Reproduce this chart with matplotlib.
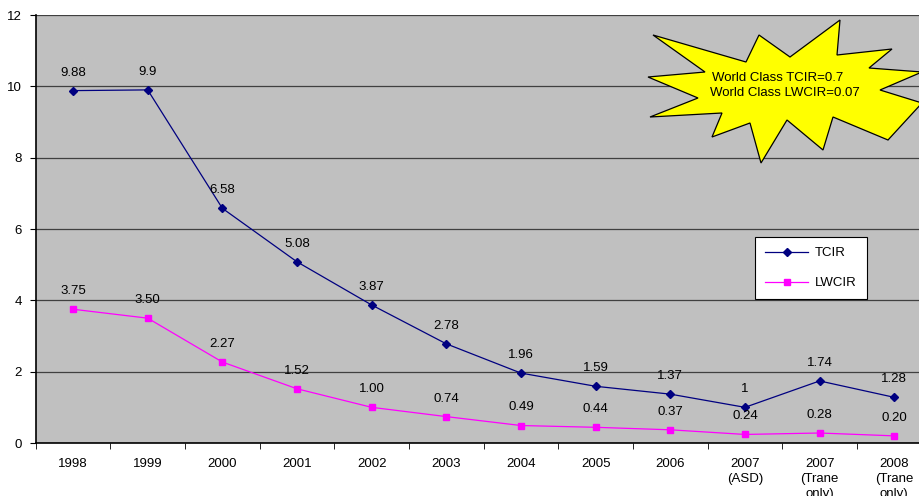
import numpy as np
import matplotlib
matplotlib.use('Agg')
import matplotlib.pyplot as plt
from matplotlib.patches import Polygon

plt.rcParams['font.family'] = ['Liberation Sans', 'DejaVu Sans']

years = ['1998', '1999', '2000', '2001', '2002', '2003', '2004', '2005', '2006',
         '2007\n(ASD)', '2007\n(Trane\nonly)', '2008\n(Trane\nonly)']
tcir = [9.88, 9.9, 6.58, 5.08, 3.87, 2.78, 1.96, 1.59, 1.37, 1, 1.74, 1.28]
tcir_lbl = ['9.88', '9.9', '6.58', '5.08', '3.87', '2.78', '1.96', '1.59', '1.37', '1', '1.74', '1.28']
lwcir = [3.75, 3.50, 2.27, 1.52, 1.00, 0.74, 0.49, 0.44, 0.37, 0.24, 0.28, 0.20]
lwcir_lbl = ['%.2f' % v for v in lwcir]

FS = 9.5
W, H = 919, 496
fig = plt.figure(figsize=(W / 100, H / 100), dpi=100)
ax = fig.add_axes([35.7 / W, (H - 443) / H, (931.6 - 35.7) / W, (443 - 15) / H])
ax.set_facecolor('#c0c0c0')

x = np.arange(len(years))
ax.plot(x, tcir, color='#000080', marker='D', markersize=4, lw=0.9, label='TCIR', zorder=3)
ax.plot(x, lwcir, color='#ff00ff', marker='s', markersize=5, lw=0.9, label='LWCIR', zorder=3)

for xi, v, s in zip(x, tcir, tcir_lbl):
    ax.annotate(s, (xi, v), xytext=(0, 13), textcoords='offset points',
                ha='center', va='center', fontsize=FS)
for xi, v, s in zip(x, lwcir, lwcir_lbl):
    ax.annotate(s, (xi, v), xytext=(0, 13), textcoords='offset points',
                ha='center', va='center', fontsize=FS)

ax.set_xlim(-0.5, len(years) - 0.5)
ax.set_ylim(0, 12)
ax.set_yticks(range(0, 13, 2))
ax.yaxis.grid(True, color='#404040', lw=0.9)
ax.set_axisbelow(True)
ax.set_xticks(x)
ax.set_xticklabels(years, fontsize=FS, va='top', linespacing=1.3)
ax.set_xticks(np.arange(-0.5, len(years), 1), minor=True)
ax.tick_params(axis='x', which='major', length=0, pad=11)
ax.tick_params(axis='x', which='minor', length=4, color='black', direction='out')
ax.tick_params(axis='y', labelsize=FS, length=4, color='black', direction='out', pad=6)
for sp in ['top', 'right']:
    ax.spines[sp].set_visible(False)
for sp in ['left', 'bottom']:
    ax.spines[sp].set_color('black')
    ax.spines[sp].set_linewidth(1.2)

leg = ax.legend(loc='upper left', bbox_to_anchor=(755 / W, 1 - 237 / H),
                bbox_transform=fig.transFigure, fontsize=FS, frameon=True,
                fancybox=False, edgecolor='black', framealpha=1,
                handlelength=3.3, handletextpad=0.5, labelspacing=1.35,
                borderpad=0.75, borderaxespad=0)
leg.get_frame().set_linewidth(0.8)

# starburst callout (figure pixel coords)
star_px = [(653, 35), (746, 62), (759, 35), (790, 57), (840, 20), (837, 55),
           (892, 49), (869, 68), (922, 72), (880, 90), (922, 103), (888, 140),
           (833, 117), (823, 150), (787, 120), (761, 163), (750, 123), (712, 137),
           (722, 113), (650, 117), (698, 98), (648, 77), (705, 72)]
star = Polygon([(px / W, 1 - py / H) for px, py in star_px], closed=True,
               facecolor='#ffff00', edgecolor='black', lw=0.9,
               transform=fig.transFigure, zorder=5)
fig.add_artist(star)
fig.text(778 / W, 1 - 78 / H, 'World Class TCIR=0.7', ha='center', va='center',
         fontsize=FS, zorder=6)
fig.text(785 / W, 1 - 93 / H, 'World Class LWCIR=0.07', ha='center', va='center',
         fontsize=FS, zorder=6)

fig.savefig('out.png', dpi=100)
